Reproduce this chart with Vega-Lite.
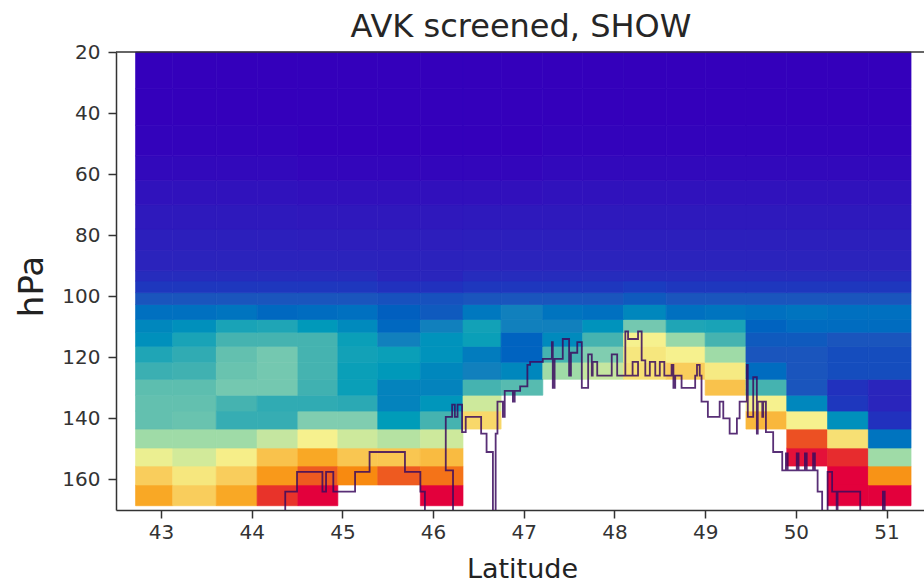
{"$schema":"https://vega.github.io/schema/vega-lite/v6.json","width":808,"height":458,"autosize":{"type":"none"},"padding":{"left":116,"top":52,"right":0,"bottom":74},"background":"white","title":{"text":"AVK screened, SHOW","font":"DejaVu Sans","fontSize":32,"fontWeight":"normal","color":"#262626","offset":-2,"anchor":"middle","dx":1},"config":{"view":{"stroke":null},"axis":{"labelFont":"DejaVu Sans","titleFont":"DejaVu Sans","labelFontSize":20,"labelColor":"#333","domainColor":"#333","domainWidth":1.5,"tickColor":"#333","tickSize":8,"tickWidth":1.5,"grid":false,"titleFontWeight":"normal","titleColor":"#222"}},"datasets":{"top":[{"p":20}],"cols":[{"c":0,"a":42.72,"b":43.13},{"c":1,"a":43.13,"b":43.61},{"c":2,"a":43.61,"b":44.06},{"c":3,"a":44.06,"b":44.51},{"c":4,"a":44.51,"b":44.95},{"c":5,"a":44.95,"b":45.39},{"c":6,"a":45.39,"b":45.86},{"c":7,"a":45.86,"b":46.33},{"c":8,"a":46.33,"b":46.75},{"c":9,"a":46.75,"b":47.21},{"c":10,"a":47.21,"b":47.65},{"c":11,"a":47.65,"b":48.1},{"c":12,"a":48.1,"b":48.57},{"c":13,"a":48.57,"b":49},{"c":14,"a":49,"b":49.45},{"c":15,"a":49.45,"b":49.9},{"c":16,"a":49.9,"b":50.35},{"c":17,"a":50.35,"b":50.8},{"c":18,"a":50.8,"b":51.27}],"levs":[{"r":0,"p":161.8,"q":168.6},{"r":1,"p":155.6,"q":161.8},{"r":2,"p":149.7,"q":155.6},{"r":3,"p":143.5,"q":149.7},{"r":4,"p":137.6,"q":143.5},{"r":5,"p":132.4,"q":137.6},{"r":6,"p":127.2,"q":132.4},{"r":7,"p":121.6,"q":127.2},{"r":8,"p":116.4,"q":121.6},{"r":9,"p":111.8,"q":116.4},{"r":10,"p":107.6,"q":111.8},{"r":11,"p":102.7,"q":107.6},{"r":12,"p":98.8,"q":102.7},{"r":13,"p":95,"q":98.8},{"r":14,"p":91.6,"q":95},{"r":15,"p":85,"q":91.6},{"r":16,"p":78,"q":85},{"r":17,"p":70,"q":78},{"r":18,"p":62,"q":70},{"r":19,"p":54,"q":62},{"r":20,"p":44,"q":54},{"r":21,"p":32,"q":44},{"r":22,"p":20,"q":32}],"cells":[
{"c":0,"r":0,"v":10},{"c":1,"r":0,"v":9},{"c":2,"r":0,"v":10},{"c":3,"r":0,"v":13},{"c":4,"r":0,"v":14},{"c":7,"r":0,"v":14},{"c":17,"r":0,"v":14},{"c":18,"r":0,"v":14},
{"c":0,"r":1,"v":9},{"c":1,"r":1,"v":8.3},{"c":2,"r":1,"v":9},{"c":3,"r":1,"v":10.5},{"c":4,"r":1,"v":12},{"c":5,"r":1,"v":11},{"c":6,"r":1,"v":12},{"c":7,"r":1,"v":11.5},{"c":17,"r":1,"v":14},{"c":18,"r":1,"v":10.7},
{"c":0,"r":2,"v":7.8},{"c":1,"r":2,"v":7.3},{"c":2,"r":2,"v":8.1},{"c":3,"r":2,"v":9.3},{"c":4,"r":2,"v":10},{"c":5,"r":2,"v":9.2},{"c":6,"r":2,"v":9.2},{"c":7,"r":2,"v":9.5},{"c":16,"r":2,"v":13.8},{"c":17,"r":2,"v":13.2},{"c":18,"r":2,"v":6.5},
{"c":0,"r":3,"v":6.5},{"c":1,"r":3,"v":6.5},{"c":2,"r":3,"v":6.5},{"c":3,"r":3,"v":7},{"c":4,"r":3,"v":8},{"c":5,"r":3,"v":7.2},{"c":6,"r":3,"v":6.8},{"c":7,"r":3,"v":7.2},{"c":16,"r":3,"v":12.3},{"c":17,"r":3,"v":8.5},{"c":18,"r":3,"v":2.7},
{"c":0,"r":4,"v":5.5},{"c":1,"r":4,"v":5.6},{"c":2,"r":4,"v":4.7},{"c":3,"r":4,"v":4.7},{"c":4,"r":4,"v":6},{"c":5,"r":4,"v":6},{"c":6,"r":4,"v":3.9},{"c":7,"r":4,"v":5},{"c":8,"r":4,"v":8.7},{"c":15,"r":4,"v":9.6},{"c":16,"r":4,"v":8},{"c":17,"r":4,"v":3.5},{"c":18,"r":4,"v":1.2},
{"c":0,"r":5,"v":5.5},{"c":1,"r":5,"v":5.5},{"c":2,"r":5,"v":5},{"c":3,"r":5,"v":4.6},{"c":4,"r":5,"v":4.6},{"c":5,"r":5,"v":4.5},{"c":6,"r":5,"v":3.1},{"c":7,"r":5,"v":3.7},{"c":8,"r":5,"v":7.2},{"c":15,"r":5,"v":8},{"c":16,"r":5,"v":3.2},{"c":17,"r":5,"v":1.3},{"c":18,"r":5,"v":1},
{"c":0,"r":6,"v":5.4},{"c":1,"r":6,"v":5.4},{"c":2,"r":6,"v":5.8},{"c":3,"r":6,"v":5.8},{"c":4,"r":6,"v":4.9},{"c":5,"r":6,"v":4},{"c":6,"r":6,"v":3.1},{"c":7,"r":6,"v":3.1},{"c":8,"r":6,"v":5},{"c":9,"r":6,"v":5.3},{"c":14,"r":6,"v":9.3},{"c":15,"r":6,"v":5},{"c":16,"r":6,"v":2},{"c":17,"r":6,"v":1.2},{"c":18,"r":6,"v":1},
{"c":0,"r":7,"v":4.8},{"c":1,"r":7,"v":4.9},{"c":2,"r":7,"v":5.6},{"c":3,"r":7,"v":5.8},{"c":4,"r":7,"v":5},{"c":5,"r":7,"v":4},{"c":6,"r":7,"v":3.8},{"c":7,"r":7,"v":3.2},{"c":8,"r":7,"v":3},{"c":9,"r":7,"v":3.2},{"c":10,"r":7,"v":6.5},{"c":11,"r":7,"v":7},{"c":12,"r":7,"v":8.5},{"c":13,"r":7,"v":9},{"c":14,"r":7,"v":8.2},{"c":15,"r":7,"v":2.5},{"c":16,"r":7,"v":2},{"c":17,"r":7,"v":1.8},{"c":18,"r":7,"v":1.8},
{"c":0,"r":8,"v":4.3},{"c":1,"r":8,"v":4.6},{"c":2,"r":8,"v":5.5},{"c":3,"r":8,"v":5.8},{"c":4,"r":8,"v":5},{"c":5,"r":8,"v":4.1},{"c":6,"r":8,"v":4},{"c":7,"r":8,"v":3.6},{"c":8,"r":8,"v":2.9},{"c":9,"r":8,"v":2.3},{"c":10,"r":8,"v":5},{"c":11,"r":8,"v":6},{"c":12,"r":8,"v":8.3},{"c":13,"r":8,"v":8},{"c":14,"r":8,"v":6.5},{"c":15,"r":8,"v":2},{"c":16,"r":8,"v":2},{"c":17,"r":8,"v":1.8},{"c":18,"r":8,"v":1.8},
{"c":0,"r":9,"v":3.5},{"c":1,"r":9,"v":4.2},{"c":2,"r":9,"v":5},{"c":3,"r":9,"v":5},{"c":4,"r":9,"v":5},{"c":5,"r":9,"v":4},{"c":6,"r":9,"v":3},{"c":7,"r":9,"v":3.6},{"c":8,"r":9,"v":4},{"c":9,"r":9,"v":2.3},{"c":10,"r":9,"v":3.3},{"c":11,"r":9,"v":5},{"c":12,"r":9,"v":8},{"c":13,"r":9,"v":6.4},{"c":14,"r":9,"v":5},{"c":15,"r":9,"v":2.1},{"c":16,"r":9,"v":2.1},{"c":17,"r":9,"v":2},{"c":18,"r":9,"v":2},
{"c":0,"r":10,"v":3.2},{"c":1,"r":10,"v":3.5},{"c":2,"r":10,"v":4.2},{"c":3,"r":10,"v":4.3},{"c":4,"r":10,"v":3.8},{"c":5,"r":10,"v":3.3},{"c":6,"r":10,"v":2.4},{"c":7,"r":10,"v":3},{"c":8,"r":10,"v":4.1},{"c":9,"r":10,"v":3},{"c":10,"r":10,"v":3},{"c":11,"r":10,"v":3.6},{"c":12,"r":10,"v":5.8},{"c":13,"r":10,"v":4.3},{"c":14,"r":10,"v":4.2},{"c":15,"r":10,"v":2.3},{"c":16,"r":10,"v":2.5},{"c":17,"r":10,"v":2.5},{"c":18,"r":10,"v":2.5},
{"c":0,"r":11,"v":2.6},{"c":1,"r":11,"v":2.6},{"c":2,"r":11,"v":2.7},{"c":3,"r":11,"v":2.4},{"c":4,"r":11,"v":2.5},{"c":5,"r":11,"v":2.6},{"c":6,"r":11,"v":2.2},{"c":7,"r":11,"v":2.1},{"c":8,"r":11,"v":2.8},{"c":9,"r":11,"v":3},{"c":10,"r":11,"v":2.7},{"c":11,"r":11,"v":2.6},{"c":12,"r":11,"v":3.2},{"c":13,"r":11,"v":2.6},{"c":14,"r":11,"v":2.7},{"c":15,"r":11,"v":2.6},{"c":16,"r":11,"v":2.7},{"c":17,"r":11,"v":2.6},{"c":18,"r":11,"v":2.6},
{"c":0,"r":12,"v":2},{"c":1,"r":12,"v":2},{"c":2,"r":12,"v":2},{"c":3,"r":12,"v":2},{"c":4,"r":12,"v":2},{"c":5,"r":12,"v":2},{"c":6,"r":12,"v":1.9},{"c":7,"r":12,"v":1.9},{"c":8,"r":12,"v":2},{"c":9,"r":12,"v":2},{"c":10,"r":12,"v":2},{"c":11,"r":12,"v":2},{"c":12,"r":12,"v":2.1},{"c":13,"r":12,"v":2},{"c":14,"r":12,"v":2},{"c":15,"r":12,"v":2},{"c":16,"r":12,"v":2},{"c":17,"r":12,"v":2},{"c":18,"r":12,"v":2},
{"c":0,"r":13,"v":1.3},{"c":1,"r":13,"v":1.3},{"c":2,"r":13,"v":1.3},{"c":3,"r":13,"v":1.3},{"c":4,"r":13,"v":1.3},{"c":5,"r":13,"v":1.3},{"c":6,"r":13,"v":1.2},{"c":7,"r":13,"v":1.2},{"c":8,"r":13,"v":1.3},{"c":9,"r":13,"v":1.3},{"c":10,"r":13,"v":1.3},{"c":11,"r":13,"v":1.3},{"c":12,"r":13,"v":1.4},{"c":13,"r":13,"v":1.3},{"c":14,"r":13,"v":1.3},{"c":15,"r":13,"v":1.3},{"c":16,"r":13,"v":1.3},{"c":17,"r":13,"v":1.3},{"c":18,"r":13,"v":1.3},
{"c":0,"r":14,"v":1.1},{"c":1,"r":14,"v":1.1},{"c":2,"r":14,"v":1.1},{"c":3,"r":14,"v":1.1},{"c":4,"r":14,"v":1.1},{"c":5,"r":14,"v":1.1},{"c":6,"r":14,"v":1},{"c":7,"r":14,"v":1},{"c":8,"r":14,"v":1.1},{"c":9,"r":14,"v":1.1},{"c":10,"r":14,"v":1.1},{"c":11,"r":14,"v":1.1},{"c":12,"r":14,"v":1.1},{"c":13,"r":14,"v":1.1},{"c":14,"r":14,"v":1.1},{"c":15,"r":14,"v":1.1},{"c":16,"r":14,"v":1.1},{"c":17,"r":14,"v":1.1},{"c":18,"r":14,"v":1.1},
{"c":0,"r":15,"v":0.9},{"c":1,"r":15,"v":0.9},{"c":2,"r":15,"v":0.9},{"c":3,"r":15,"v":0.9},{"c":4,"r":15,"v":0.9},{"c":5,"r":15,"v":0.9},{"c":6,"r":15,"v":0.85},{"c":7,"r":15,"v":0.85},{"c":8,"r":15,"v":0.9},{"c":9,"r":15,"v":0.9},{"c":10,"r":15,"v":0.9},{"c":11,"r":15,"v":0.9},{"c":12,"r":15,"v":0.9},{"c":13,"r":15,"v":0.9},{"c":14,"r":15,"v":0.9},{"c":15,"r":15,"v":0.9},{"c":16,"r":15,"v":0.9},{"c":17,"r":15,"v":0.9},{"c":18,"r":15,"v":0.9},
{"c":0,"r":16,"v":0.75},{"c":1,"r":16,"v":0.75},{"c":2,"r":16,"v":0.75},{"c":3,"r":16,"v":0.75},{"c":4,"r":16,"v":0.7},{"c":5,"r":16,"v":0.7},{"c":6,"r":16,"v":0.7},{"c":7,"r":16,"v":0.7},{"c":8,"r":16,"v":0.75},{"c":9,"r":16,"v":0.75},{"c":10,"r":16,"v":0.75},{"c":11,"r":16,"v":0.75},{"c":12,"r":16,"v":0.75},{"c":13,"r":16,"v":0.75},{"c":14,"r":16,"v":0.75},{"c":15,"r":16,"v":0.75},{"c":16,"r":16,"v":0.75},{"c":17,"r":16,"v":0.75},{"c":18,"r":16,"v":0.75},
{"c":0,"r":17,"v":0.55},{"c":1,"r":17,"v":0.55},{"c":2,"r":17,"v":0.55},{"c":3,"r":17,"v":0.55},{"c":4,"r":17,"v":0.5},{"c":5,"r":17,"v":0.5},{"c":6,"r":17,"v":0.5},{"c":7,"r":17,"v":0.5},{"c":8,"r":17,"v":0.55},{"c":9,"r":17,"v":0.55},{"c":10,"r":17,"v":0.55},{"c":11,"r":17,"v":0.55},{"c":12,"r":17,"v":0.55},{"c":13,"r":17,"v":0.55},{"c":14,"r":17,"v":0.55},{"c":15,"r":17,"v":0.55},{"c":16,"r":17,"v":0.55},{"c":17,"r":17,"v":0.55},{"c":18,"r":17,"v":0.55},
{"c":0,"r":18,"v":0.35},{"c":1,"r":18,"v":0.35},{"c":2,"r":18,"v":0.35},{"c":3,"r":18,"v":0.35},{"c":4,"r":18,"v":0.3},{"c":5,"r":18,"v":0.3},{"c":6,"r":18,"v":0.3},{"c":7,"r":18,"v":0.3},{"c":8,"r":18,"v":0.3},{"c":9,"r":18,"v":0.3},{"c":10,"r":18,"v":0.35},{"c":11,"r":18,"v":0.35},{"c":12,"r":18,"v":0.35},{"c":13,"r":18,"v":0.35},{"c":14,"r":18,"v":0.35},{"c":15,"r":18,"v":0.35},{"c":16,"r":18,"v":0.35},{"c":17,"r":18,"v":0.35},{"c":18,"r":18,"v":0.35},
{"c":0,"r":19,"v":0.15},{"c":1,"r":19,"v":0.15},{"c":2,"r":19,"v":0.15},{"c":3,"r":19,"v":0.15},{"c":4,"r":19,"v":0.1},{"c":5,"r":19,"v":0.1},{"c":6,"r":19,"v":0.1},{"c":7,"r":19,"v":0.1},{"c":8,"r":19,"v":0.1},{"c":9,"r":19,"v":0.1},{"c":10,"r":19,"v":0.15},{"c":11,"r":19,"v":0.15},{"c":12,"r":19,"v":0.15},{"c":13,"r":19,"v":0.15},{"c":14,"r":19,"v":0.15},{"c":15,"r":19,"v":0.15},{"c":16,"r":19,"v":0.15},{"c":17,"r":19,"v":0.15},{"c":18,"r":19,"v":0.15},
{"c":0,"r":20,"v":0.05},{"c":1,"r":20,"v":0.05},{"c":2,"r":20,"v":0.05},{"c":3,"r":20,"v":0.05},{"c":4,"r":20,"v":0},{"c":5,"r":20,"v":0},{"c":6,"r":20,"v":0},{"c":7,"r":20,"v":0},{"c":8,"r":20,"v":0},{"c":9,"r":20,"v":0},{"c":10,"r":20,"v":0.05},{"c":11,"r":20,"v":0.05},{"c":12,"r":20,"v":0.05},{"c":13,"r":20,"v":0.05},{"c":14,"r":20,"v":0.05},{"c":15,"r":20,"v":0.05},{"c":16,"r":20,"v":0.05},{"c":17,"r":20,"v":0.05},{"c":18,"r":20,"v":0.05},
{"c":0,"r":21,"v":0},{"c":1,"r":21,"v":0},{"c":2,"r":21,"v":0},{"c":3,"r":21,"v":0},{"c":4,"r":21,"v":0},{"c":5,"r":21,"v":0},{"c":6,"r":21,"v":0},{"c":7,"r":21,"v":0},{"c":8,"r":21,"v":0},{"c":9,"r":21,"v":0},{"c":10,"r":21,"v":0},{"c":11,"r":21,"v":0},{"c":12,"r":21,"v":0},{"c":13,"r":21,"v":0},{"c":14,"r":21,"v":0},{"c":15,"r":21,"v":0},{"c":16,"r":21,"v":0},{"c":17,"r":21,"v":0},{"c":18,"r":21,"v":0},
{"c":0,"r":22,"v":0},{"c":1,"r":22,"v":0},{"c":2,"r":22,"v":0},{"c":3,"r":22,"v":0},{"c":4,"r":22,"v":0},{"c":5,"r":22,"v":0},{"c":6,"r":22,"v":0},{"c":7,"r":22,"v":0},{"c":8,"r":22,"v":0},{"c":9,"r":22,"v":0},{"c":10,"r":22,"v":0},{"c":11,"r":22,"v":0},{"c":12,"r":22,"v":0},{"c":13,"r":22,"v":0},{"c":14,"r":22,"v":0},{"c":15,"r":22,"v":0},{"c":16,"r":22,"v":0},{"c":17,"r":22,"v":0},{"c":18,"r":22,"v":0}
],"track":[{"i":1,"lat":44.37,"p":175},{"i":2,"lat":44.37,"p":164},{"i":3,"lat":44.5,"p":157.5},{"i":4,"lat":44.78,"p":164},{"i":5,"lat":44.82,"p":157.5},{"i":6,"lat":44.9,"p":164},{"i":7,"lat":45.14,"p":157.5},{"i":8,"lat":45.3,"p":151},{"i":9,"lat":45.69,"p":157.5},{"i":10,"lat":45.86,"p":164},{"i":11,"lat":45.91,"p":175},{"i":12,"lat":46.22,"p":157},{"i":13,"lat":46.14,"p":139.5},{"i":14,"lat":46.21,"p":135.5},{"i":15,"lat":46.24,"p":139.5},{"i":16,"lat":46.27,"p":135.5},{"i":17,"lat":46.32,"p":144.5},{"i":18,"lat":46.36,"p":139.5},{"i":19,"lat":46.53,"p":145},{"i":20,"lat":46.59,"p":151},{"i":21,"lat":46.66,"p":175},{"i":22,"lat":46.69,"p":145},{"i":23,"lat":46.71,"p":134.5},{"i":24,"lat":46.77,"p":139.5},{"i":25,"lat":46.79,"p":131},{"i":26,"lat":46.88,"p":134.5},{"i":27,"lat":46.9,"p":131},{"i":28,"lat":46.96,"p":129.5},{"i":29,"lat":47.04,"p":122.5},{"i":30,"lat":47.07,"p":121.5},{"i":31,"lat":47.21,"p":120.5},{"i":32,"lat":47.31,"p":115},{"i":33,"lat":47.32,"p":130},{"i":34,"lat":47.34,"p":120.5},{"i":35,"lat":47.43,"p":114},{"i":36,"lat":47.5,"p":126},{"i":37,"lat":47.52,"p":118.5},{"i":38,"lat":47.59,"p":115},{"i":39,"lat":47.64,"p":130},{"i":40,"lat":47.71,"p":119},{"i":41,"lat":47.75,"p":126},{"i":42,"lat":47.76,"p":121.5},{"i":43,"lat":47.81,"p":126},{"i":44,"lat":47.97,"p":119},{"i":45,"lat":48.03,"p":126},{"i":46,"lat":48.2,"p":121.5},{"i":47,"lat":48.26,"p":126},{"i":48,"lat":48.12,"p":111.5},{"i":49,"lat":48.15,"p":114},{"i":50,"lat":48.26,"p":111.5},{"i":51,"lat":48.3,"p":121},{"i":52,"lat":48.34,"p":126},{"i":53,"lat":48.39,"p":121.5},{"i":54,"lat":48.45,"p":126},{"i":55,"lat":48.5,"p":121.5},{"i":56,"lat":48.55,"p":126},{"i":57,"lat":48.63,"p":122.5},{"i":58,"lat":48.65,"p":130},{"i":59,"lat":48.67,"p":126},{"i":60,"lat":48.74,"p":130},{"i":61,"lat":48.89,"p":126},{"i":62,"lat":48.91,"p":122.5},{"i":63,"lat":48.94,"p":126},{"i":64,"lat":48.96,"p":134.5},{"i":65,"lat":49.03,"p":139.5},{"i":66,"lat":49.16,"p":134.5},{"i":67,"lat":49.2,"p":140},{"i":68,"lat":49.27,"p":145},{"i":69,"lat":49.35,"p":140},{"i":70,"lat":49.38,"p":134.5},{"i":71,"lat":49.46,"p":122.5},{"i":72,"lat":49.47,"p":139.5},{"i":73,"lat":49.53,"p":126.5},{"i":74,"lat":49.57,"p":145},{"i":75,"lat":49.58,"p":134.5},{"i":76,"lat":49.63,"p":139.5},{"i":77,"lat":49.64,"p":134.5},{"i":78,"lat":49.67,"p":144.5},{"i":79,"lat":49.75,"p":151},{"i":80,"lat":49.85,"p":157},{"i":81,"lat":49.89,"p":151.5},{"i":82,"lat":49.91,"p":157},{"i":83,"lat":50.01,"p":151.5},{"i":84,"lat":50.03,"p":157},{"i":85,"lat":50.1,"p":151.5},{"i":86,"lat":50.12,"p":157},{"i":87,"lat":50.19,"p":151.5},{"i":88,"lat":50.21,"p":157},{"i":89,"lat":50.24,"p":164},{"i":90,"lat":50.29,"p":175},{"i":91,"lat":50.35,"p":157.5},{"i":92,"lat":50.4,"p":164},{"i":93,"lat":50.45,"p":175},{"i":94,"lat":50.46,"p":164},{"i":95,"lat":50.71,"p":175},{"i":96,"lat":50.96,"p":164},{"i":97,"lat":50.98,"p":175},{"i":98,"lat":51,"p":175}]},"layer":[{"data":{"name":"cells"},"transform":[{"lookup":"c","from":{"data":{"name":"cols"},"key":"c","fields":["a","b"]}},{"lookup":"r","from":{"data":{"name":"levs"},"key":"r","fields":["p","q"]}}],"mark":{"type":"rect","strokeWidth":0.7},"encoding":{"x":{"field":"a","type":"quantitative","scale":{"domain":[42.504,51.413],"nice":false,"zero":false},"axis":{"values":[43,44,45,46,47,48,49,50,51],"title":"Latitude","titleFontSize":27,"titlePadding":14,"titleX":406,"labelPadding":4,"format":"d"}},"x2":{"field":"b"},"y":{"field":"p","type":"quantitative","scale":{"domain":[170,20],"nice":false,"zero":false},"axis":{"values":[20,40,60,80,100,120,140,160],"title":"hPa","titleFontSize":34,"titlePadding":12,"titleY":234,"labelPadding":8,"format":"d"}},"y2":{"field":"q"},"color":{"field":"v","type":"quantitative","legend":null,"scale":{"domain":[0,1,2,3,4,5,6,7,8,9,10,11,12,13,14],"range":["#3400bb","#2a25bc","#1a55bd","#1180bd","#0a9fb8","#45b3b0","#80cdb0","#c5e6a0","#f6f18e","#f9cd5c","#f9a825","#f88a10","#ee5a20","#e8332a","#e3003c"]}},"stroke":{"field":"v","type":"quantitative","legend":null,"scale":{"domain":[0,1,2,3,4,5,6,7,8,9,10,11,12,13,14],"range":["#3400bb","#2a25bc","#1a55bd","#1180bd","#0a9fb8","#45b3b0","#80cdb0","#c5e6a0","#f6f18e","#f9cd5c","#f9a825","#f88a10","#ee5a20","#e8332a","#e3003c"]}}}},{"data":{"name":"track"},"mark":{"type":"line","interpolate":"step-after","clip":true,"color":"#3b0a5e","strokeWidth":1.8,"opacity":0.85},"encoding":{"x":{"field":"lat","type":"quantitative"},"y":{"field":"p","type":"quantitative"},"order":{"field":"i"}}},{"data":{"name":"top"},"mark":{"type":"rule","color":"#333","strokeWidth":1.5},"encoding":{"y":{"field":"p","type":"quantitative"}}}]}
